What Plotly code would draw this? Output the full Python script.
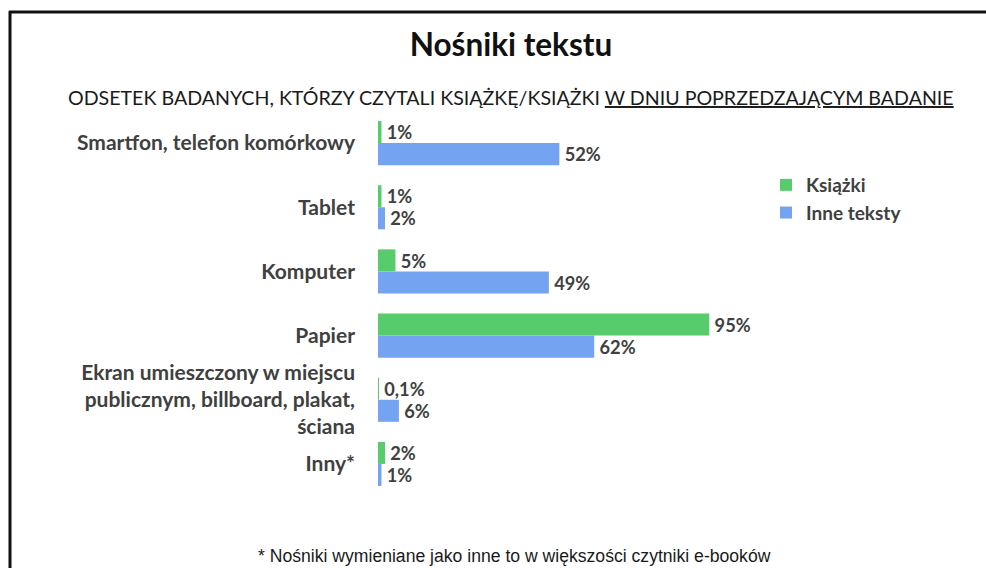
import plotly.graph_objects as go

categories = [
    "Smartfon, telefon komórkowy",
    "Tablet",
    "Komputer",
    "Papier",
    "Ekran umieszczony w miejscu<br>publicznym, billboard, plakat,<br>ściana",
    "Inny*",
]
ksiazki = [1, 1, 5, 95, 0.1, 2]
inne_teksty = [52, 2, 49, 62, 6, 1]
series_names = ["Książki", "Inne teksty"]
colors = ["#58CC6D", "#74A4F1"]

def fmt(v):
    return "\u2009" + f"{v:g}".replace(".", ",") + "%"

W, H = 986, 568
L, R, T, B = 378, 50, 111, 72
pw = W - L - R
ph = H - T - B

def px_x(p):
    return (p - L) / pw

def px_y(p):
    return (H - B - p) / ph

font_main = "Lato, 'Open Sans', sans-serif"
txt_color = "#404040"

fig = go.Figure()
for name, vals, col in zip(series_names, [ksiazki, inne_teksty], colors):
    fig.add_trace(go.Bar(
        y=categories, x=vals, orientation="h", name=name,
        marker=dict(color=col, line=dict(width=0)),
        text=[fmt(v) for v in vals], textposition="outside",
        textfont=dict(family=font_main, size=19, color=txt_color, weight="bold"),
        cliponaxis=False,
    ))

fig.update_layout(
    width=W, height=H,
    margin=dict(l=L, r=R, t=T, b=B),
    paper_bgcolor="white", plot_bgcolor="white",
    barmode="group", bargap=0.3125, bargroupgap=0,
    title=dict(text="<b>Nośniki tekstu</b>", x=px_x(511), xref="paper", xanchor="center",
               y=1 - 45 / H, yanchor="middle",
               font=dict(family=font_main, size=31.5, color="#111111")),
    xaxis=dict(range=[0, 160], visible=False, fixedrange=True),
    yaxis=dict(autorange="reversed", showgrid=False, showline=False, ticks="",
               ticklabelstandoff=22, fixedrange=True,
               tickfont=dict(family=font_main, size=21, color=txt_color, weight="bold")),
    legend=dict(x=px_x(766), y=px_y(166), xanchor="left", yanchor="top",
                font=dict(family=font_main, size=19, color=txt_color, weight="bold"),
                bgcolor="rgba(0,0,0,0)", traceorder="normal"),
    showlegend=True,
    font=dict(family=font_main),
)

fig.add_annotation(
    text="ODSETEK BADANYCH, KTÓRZY CZYTALI KSIĄŻKĘ/KSIĄŻKI <u>W DNIU POPRZEDZAJĄCYM BADANIE</u>",
    xref="paper", yref="paper", x=px_x(511), y=px_y(97), xanchor="center", yanchor="middle",
    showarrow=False, font=dict(family=font_main, size=19.6, color="#1a1a1a"),
)
fig.add_annotation(
    text="* Nośniki wymieniane jako inne to w większości czytniki e-booków",
    xref="paper", yref="paper", x=px_x(514), y=px_y(556), xanchor="center", yanchor="middle",
    showarrow=False, font=dict(family="'Liberation Sans Narrow', Arial, sans-serif", size=17.6, color="#1a1a1a"),
)

# frame lines
fig.add_shape(type="line", xref="paper", yref="paper",
              x0=px_x(9), x1=px_x(990), y0=px_y(12), y1=px_y(12),
              line=dict(color="#111111", width=3))
fig.add_shape(type="line", xref="paper", yref="paper",
              x0=px_x(10), x1=px_x(10), y0=px_y(11), y1=px_y(572),
              line=dict(color="#111111", width=3))

fig.write_html("out.html", config={"displayModeBar": False},
               post_script="document.body.style.margin='0';document.body.style.overflow='hidden';")
